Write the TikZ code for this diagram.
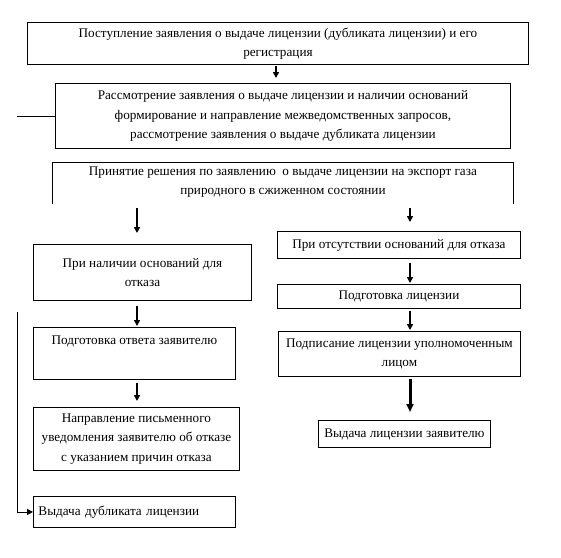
\documentclass[tikz,border=0pt]{standalone}
\usepackage{fontspec}
\setmainfont{Liberation Serif}
\usetikzlibrary{arrows.meta,positioning}

\begin{document}
\begin{tikzpicture}[x=1pt, y=-1pt,
  stage/.style={draw, line width=0.9pt, align=center, anchor=north west,
                inner xsep=3pt, inner ysep=2pt, font=\fontsize{13.2}{19.5}\selectfont},
  arr/.style={-{Triangle[length=6pt,width=6pt]}, line width=1.5pt},
  bigarr/.style={-{Triangle[length=8pt,width=7pt]}, line width=3pt}]
\useasboundingbox (0,0) rectangle (561,557);
% left and right arrow columns
\coordinate (lc) at (137,0);
\coordinate (rc) at (410,0);
\node[stage, minimum width=501pt, minimum height=42pt] (recv) at (27,22)
  {Поступление заявления о выдаче лицензии (дубликата лицензии) и его\\ регистрация};
\node[stage, minimum width=455pt, minimum height=65pt] (rev) at (55,83)
  {Рассмотрение заявления о выдаче лицензии и наличии оснований\\ формирование и направление межведомственных запросов,\\ рассмотрение заявления о выдаче дубликата лицензии};
\node[stage, draw=none, minimum width=461pt, minimum height=41pt, inner ysep=0pt,
      yshift=-1pt, text depth=5pt] (decide) at (52,161)
  {Принятие решения по заявлению~ о выдаче лицензии на экспорт газа\\ природного в сжиженном состоянии};
\draw[line width=0.9pt] (decide.south west) -- (decide.north west) -- (decide.north east) -- (decide.south east);
% refusal branch
\node[stage, minimum width=218pt, minimum height=56pt] (yes) at (33,244)
  {При наличии оснований для\\ отказа};
\node[stage, minimum width=202pt, minimum height=52pt, inner ysep=4pt,
      text height=13pt, text depth=31pt] (answer) at (33,327)
  {Подготовка ответа заявителю};
\node[stage, minimum width=206pt, minimum height=63pt] (notice) at (33,407)
  {Направление письменного\\ уведомления заявителю об отказе\\ с указанием причин отказа};
\node[stage, minimum width=202pt, minimum height=31pt, align=left,
      text width=192pt] (dup) at (33,496)
  {Выдача дубликата лицензии};
% licence branch
\node[stage, minimum width=243pt, minimum height=27pt] (no) at (277,231)
  {При отсутствии оснований для отказа};
\node[stage, minimum width=243pt, minimum height=24pt] (prep) at (277,284)
  {Подготовка лицензии};
\node[stage, minimum width=242pt, minimum height=45pt] (sign) at (278,331)
  {Подписание лицензии уполномоченным\\ лицом};
\node[stage, minimum width=172pt, minimum height=27pt] (issue) at (318,420)
  {Выдача лицензии заявителю};
% connectors
\draw[arr, shorten <=1pt, shorten >=5pt] (recv.south -| 276,0) -- (rev.north -| 276,0);
\draw[arr, shorten <=4pt, shorten >=11pt] (decide.south -| lc) -- (yes.north -| lc);
\draw[arr, shorten <=4pt, shorten >=9pt] (decide.south -| rc) -- (no.north -| rc);
\draw[arr, shorten <=5pt, shorten >=1pt] (yes.south -| lc) -- (answer.north -| lc);
\draw[arr, shorten <=3pt, shorten >=6pt] (answer.south -| lc) -- (notice.north -| lc);
\draw[arr, shorten <=4pt, shorten >=1pt] (no.south -| rc) -- (prep.north -| rc);
\draw[arr, shorten <=2pt, shorten >=1pt] (prep.south -| rc) -- (sign.north -| rc);
\draw[bigarr, shorten <=2pt, shorten >=8pt] (sign.south -| rc) -- (issue.north -| rc);
% side lines
\coordinate (stub) at (17,115);
\coordinate (dupline) at (17,312);
\draw[line width=0.9pt] (rev.west) -- (rev.west -| stub);
\draw[line width=0.9pt, -{Triangle[length=6pt,width=6pt]}] (dupline) |- (dup.west);
\end{tikzpicture}
\end{document}
